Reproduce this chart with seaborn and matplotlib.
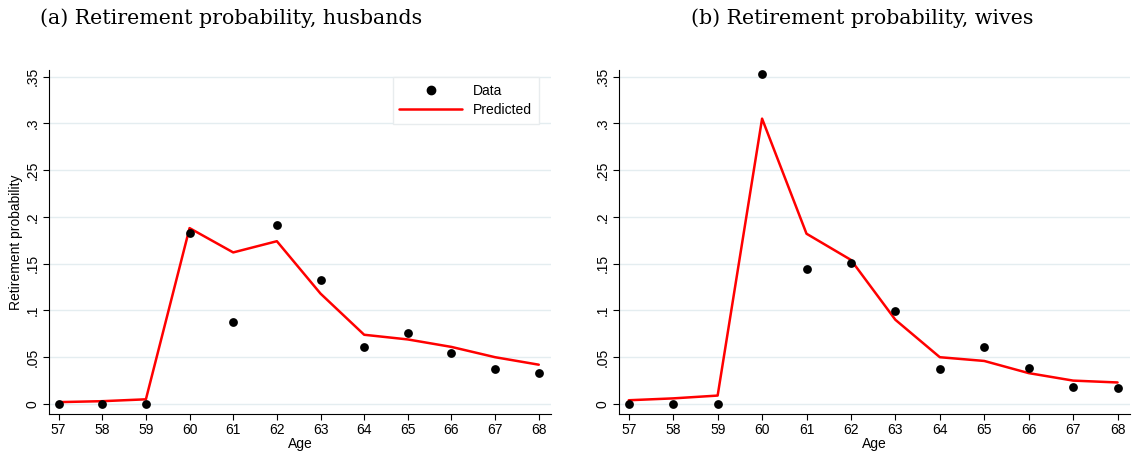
import matplotlib
matplotlib.use("Agg")
import matplotlib.pyplot as plt
import seaborn as sns
import pandas as pd
from matplotlib.lines import Line2D

ages = [57, 58, 59, 60, 61, 62, 63, 64, 65, 66, 67, 68]
husbands_data = [0.0, 0.0, 0.0, 0.183, 0.088, 0.191, 0.132, 0.061, 0.076, 0.055, 0.037, 0.033]
husbands_pred = [0.002, 0.003, 0.005, 0.188, 0.162, 0.174, 0.118, 0.074, 0.069, 0.061, 0.050, 0.042]
wives_data = [0.0, 0.0, 0.0, 0.353, 0.144, 0.151, 0.099, 0.037, 0.061, 0.039, 0.018, 0.017]
wives_pred = [0.004, 0.006, 0.009, 0.305, 0.182, 0.154, 0.090, 0.050, 0.046, 0.033, 0.025, 0.023]
yticks = [0, 0.05, 0.1, 0.15, 0.2, 0.25, 0.3, 0.35]
ytick_labels = ["0", ".05", ".1", ".15", ".2", ".25", ".3", ".35"]
titles = ["(a) Retirement probability, husbands", "(b) Retirement probability, wives"]

sns.set_theme(style="white")
plt.rcParams['font.family'] = ['Liberation Sans', 'DejaVu Sans']
plt.rcParams['text.color'] = 'black'
plt.rcParams['axes.labelcolor'] = 'black'

fig = plt.figure(figsize=(11.36, 4.53), dpi=100)
ax1 = fig.add_axes([49/1136, 39/453, 502/1136, 344/453])
ax2 = fig.add_axes([619/1136, 39/453, 511/1136, 344/453])

grid_color = "#e4edf0"
fs = 10
for ax, d, p in [(ax1, husbands_data, husbands_pred), (ax2, wives_data, wives_pred)]:
    df = pd.DataFrame({"Age": ages, "Data": d, "Predicted": p})
    for yv in yticks:
        ax.axhline(yv, color=grid_color, lw=1.0, zorder=0)
    sns.lineplot(data=df, x="Age", y="Predicted", ax=ax, color="#ff0000", lw=1.8, zorder=2)
    sns.scatterplot(data=df, x="Age", y="Data", ax=ax, color="black", s=40, edgecolor="black", linewidth=0, zorder=3)
    ax.set_xlim(56.78, 68.28)
    ax.set_ylim(-0.0107, 0.357)
    ax.set_xticks(ages)
    ax.set_xticklabels([str(a) for a in ages], fontsize=fs)
    ax.set_yticks(yticks)
    ax.set_yticklabels(ytick_labels, fontsize=fs, rotation=90, va="center")
    for s in ["top", "right"]:
        ax.spines[s].set_visible(False)
    for s in ["left", "bottom"]:
        ax.spines[s].set_color("black")
        ax.spines[s].set_linewidth(0.8)
    ax.tick_params(axis="both", which="both", direction="out", length=4.5, width=0.8, color="black", pad=2,
                   bottom=True, left=True, labelcolor="black")
    ax.set_xlabel("Age", fontsize=fs, labelpad=0)
    ax.set_ylabel("")

ax1.set_ylabel("Retirement probability", fontsize=fs, labelpad=2)

handles = [Line2D([], [], marker="o", ls="none", color="black", markersize=6),
           Line2D([], [], color="#ff0000", lw=1.8)]
leg = ax1.legend(handles, ["Data", "Predicted"], loc="upper right", bbox_to_anchor=(0.99, 1.0),
                 fontsize=fs, frameon=True, fancybox=False, edgecolor="#e8ecee", framealpha=1,
                 handlelength=4.5, borderpad=0.5, labelspacing=0.35)
leg.get_frame().set_linewidth(1.0)

fig.text(231/1136, 1 - 18/453, titles[0], ha="center", va="center", fontsize=14.8, family="DejaVu Serif")
fig.text(862/1136, 1 - 18/453, titles[1], ha="center", va="center", fontsize=14.8, family="DejaVu Serif")

fig.savefig("out.png", dpi=100)
